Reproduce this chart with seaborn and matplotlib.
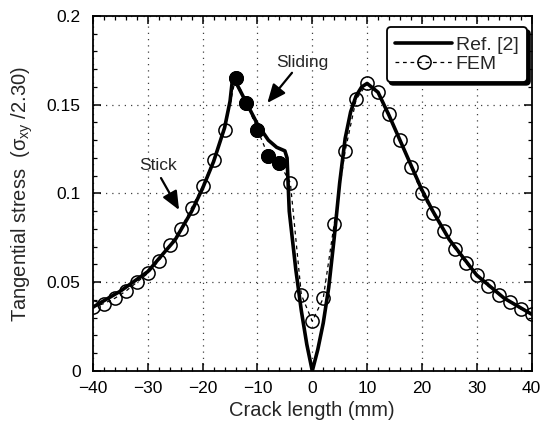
import numpy as np
import pandas as pd
import matplotlib
matplotlib.use("Agg")
import matplotlib.pyplot as plt
import seaborn as sns
from matplotlib.ticker import MultipleLocator

# ---- data ----
ref_x = [-40, -35, -30, -25, -22, -20, -18, -16, -15, -14.5,
         -13, -11.5, -10, -8, -6.5, -5, -4.6, -4.2, -3, -2,
         -1, 0, 1, 2, 3, 4, 5, 6, 7, 8,
         9, 10, 12, 14, 16, 18, 20, 22, 25, 30,
         35, 40]
ref_y = [0.036, 0.045, 0.056, 0.074, 0.090, 0.103, 0.118, 0.137, 0.152, 0.166,
         0.157, 0.148, 0.139, 0.130, 0.126, 0.124, 0.120, 0.090, 0.057, 0.034,
         0.015, 0.0, 0.012, 0.027, 0.047, 0.075, 0.106, 0.131, 0.146, 0.155,
         0.160, 0.162, 0.157, 0.144, 0.130, 0.116, 0.102, 0.090, 0.074, 0.054,
         0.041, 0.032]

fem_x = [-40, -38, -36, -34, -32, -30, -28, -26, -24, -22, -20, -18, -16,
         -14, -12, -10, -8, -6, -4, -2, 0, 2, 4, 6, 8, 10, 12, 14, 16, 18,
         20, 22, 24, 26, 28, 30, 32, 34, 36, 38, 40]
fem_y = [0.036, 0.038, 0.041, 0.045, 0.050, 0.055, 0.062, 0.071, 0.080, 0.092,
         0.104, 0.119, 0.136, 0.165, 0.151, 0.136, 0.121, 0.117, 0.106, 0.043,
         0.028, 0.041, 0.083, 0.124, 0.153, 0.162, 0.157, 0.145, 0.130, 0.115,
         0.100, 0.089, 0.079, 0.069, 0.061, 0.054, 0.048, 0.043, 0.039, 0.035,
         0.032]
slide_x = [-14, -12, -10, -8, -6]
slide_y = [0.165, 0.151, 0.136, 0.121, 0.117]

x_ticks = [-40, -30, -20, -10, 0, 10, 20, 30, 40]
y_ticks = [0, 0.05, 0.1, 0.15, 0.2]
y_tick_labels = ["0", "0.05", "0.1", "0.15", "0.2"]

sns.set_theme(style="ticks")
plt.rcParams["font.family"] = ["Liberation Sans", "DejaVu Sans"]
plt.rcParams["mathtext.fontset"] = "custom"
plt.rcParams["mathtext.rm"] = "Liberation Sans"
plt.rcParams["mathtext.it"] = "Liberation Sans:italic"

ref_df = pd.DataFrame({"x": ref_x, "y": ref_y})
fem_df = pd.DataFrame({"x": fem_x, "y": fem_y})
slide_df = pd.DataFrame({"x": slide_x, "y": slide_y})

fig = plt.figure(figsize=(5.56, 4.34), dpi=100)
ax = fig.add_axes([0.1673, 0.1452, 0.7887, 0.8180])

sns.lineplot(data=fem_df, x="x", y="y", ax=ax, sort=False, color="black",
             linewidth=0.9, linestyle=(0, (3, 3)), marker="o", markersize=9.5,
             markerfacecolor="none", markeredgecolor="black",
             markeredgewidth=1.1, label="FEM", zorder=2)
sns.scatterplot(data=slide_df, x="x", y="y", ax=ax, color="black", s=100,
                edgecolor="black", zorder=3, legend=False)
sns.lineplot(data=ref_df, x="x", y="y", ax=ax, sort=False, color="black",
             linewidth=2.6, label="Ref. [2]", zorder=4)

ax.set_xlim(-40, 40)
ax.set_ylim(0, 0.2)
ax.set_xticks(x_ticks)
ax.set_xticklabels([str(t) if t >= 0 else "\u2212" + str(-t) for t in x_ticks])
ax.set_yticks(y_ticks)
ax.set_yticklabels(y_tick_labels)
ax.xaxis.set_minor_locator(MultipleLocator(2))
ax.yaxis.set_minor_locator(MultipleLocator(0.01))
ax.tick_params(which="both", direction="in", top=True, right=True,
               labelsize=12.5, colors="black")
ax.tick_params(which="major", length=6, width=1.1)
ax.tick_params(which="minor", length=3, width=0.9)
ax.tick_params(axis="x", pad=7)
ax.tick_params(axis="y", pad=9)
for sp in ax.spines.values():
    sp.set_linewidth(1.3)
    sp.set_color("black")

ax.grid(True, which="major", color="0.25", linestyle=(0, (1, 4)), linewidth=0.9)

ax.set_xlabel("Crack length (mm)", fontsize=14.5, labelpad=4)
ax.set_ylabel(r"Tangential stress  ($\mathregular{\sigma_{xy}}$ /2.30)",
              fontsize=14.5, labelpad=8)

handles, labels = ax.get_legend_handles_labels()
order = [labels.index("Ref. [2]"), labels.index("FEM")]
leg = ax.legend([handles[i] for i in order], [labels[i] for i in order],
                loc="upper right", bbox_to_anchor=(0.99, 0.968),
                fontsize=14, frameon=True, fancybox=True,
                shadow={"color": "black", "alpha": 1.0}, framealpha=1,
                edgecolor="black", handlelength=2.9, borderaxespad=0.0,
                handletextpad=0.2, borderpad=0.45, labelspacing=0.1)
leg.get_frame().set_linewidth(1.3)

arrow_style = dict(arrowstyle="-|>,head_length=0.7,head_width=0.3",
                   color="black", lw=1.6, mutation_scale=16,
                   shrinkA=0, shrinkB=0)
ax.text(-1.8, 0.174, "Sliding", ha="center", va="center", fontsize=12.5)
ax.annotate("", xy=(-8.2, 0.151), xytext=(-3.7, 0.168), arrowprops=arrow_style)
ax.text(-28.2, 0.1155, "Stick", ha="center", va="center", fontsize=12.5)
ax.annotate("", xy=(-24.3, 0.0907), xytext=(-27.6, 0.1087),
            arrowprops=arrow_style)

fig.savefig("out.png", dpi=100)
